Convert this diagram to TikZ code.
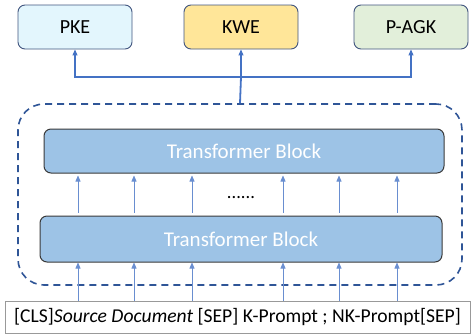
\documentclass[tikz,border=0pt]{standalone}
\usepackage{fontspec}
\setmainfont{Carlito}
\usetikzlibrary{arrows.meta}
\definecolor{arrowblue}{HTML}{4472C4}
\definecolor{darkblue}{HTML}{2F5597}
\definecolor{boxline}{HTML}{41557F}
\definecolor{pkefill}{HTML}{E3F6FD}
\definecolor{kwefill}{HTML}{FFE699}
\definecolor{agkfill}{HTML}{E2EFDA}
\definecolor{tbfill}{HTML}{9DC3E6}
\definecolor{tbline}{HTML}{3A3A3A}
\tikzset{
  topbox/.style={draw=boxline, line width=0.9pt, rounded corners=7pt, minimum width=114pt, minimum height=44pt, inner sep=0pt, font=\fontsize{20}{24}\selectfont},
  tblock/.style={draw=tbline, line width=1pt, fill=tbfill, rounded corners=7pt, minimum height=44pt, inner sep=0pt, text=white, font=\fontsize{21}{25}\selectfont},
  arr/.style={draw=arrowblue, line width=1.1pt, -{Triangle[length=6pt,width=5pt]}},
  thinarr/.style={draw=arrowblue!80, line width=0.7pt, -{Triangle[length=6pt,width=5pt]}},
}
\begin{document}
\begin{tikzpicture}[x=1pt,y=-1pt]
\useasboundingbox (0,0) rectangle (471,333);
\node[topbox, fill=pkefill] (pke) at (75,27) {PKE};
\node[topbox, fill=kwefill] (kwe) at (241,27) {KWE};
\node[topbox, fill=agkfill] (agk) at (411,27) {P-AGK};
\node[draw=darkblue, line width=1.6pt, dash pattern=on 7pt off 5pt, rounded corners=26pt, minimum width=444pt, minimum height=181pt, inner sep=0pt] (enc) at (240,194.5) {};
\node[tblock, minimum width=400pt] (tb1) at (244,151) {Transformer Block};
\node[tblock, minimum width=402pt, minimum height=46pt] (tb2) at (241,239) {Transformer Block};
\node[font=\fontsize{18.5}{22}\selectfont, inner sep=0pt] (dots) at (241,197.5) {......};
\node[draw=gray!80, line width=0.8pt, minimum width=465pt, minimum height=32pt, inner sep=0pt, font=\fontsize{19.6}{23}\selectfont] (inp) at (237.5,317) {[CLS]\textit{Source Document} [SEP] K-Prompt ; NK-Prompt[SEP]};
\coordinate (j) at (241,77);
\draw[draw=arrowblue, line width=1.8pt] (enc.north) -- (j);
\draw[arr] (j) -- (kwe.south);
\draw[arr] (j) -| (pke.south);
\draw[arr] (j) -| (agk.south);
\foreach \x in {78,134,192,283,339,397}{
  \path (\x,0) coordinate (c);
  \draw[thinarr] (inp.north -| c) -- (tb2.south -| c);
  \draw[thinarr] ([yshift=3pt]tb2.north -| c) -- ([yshift=-2pt]tb1.south -| c);
}
\end{tikzpicture}
\end{document}
